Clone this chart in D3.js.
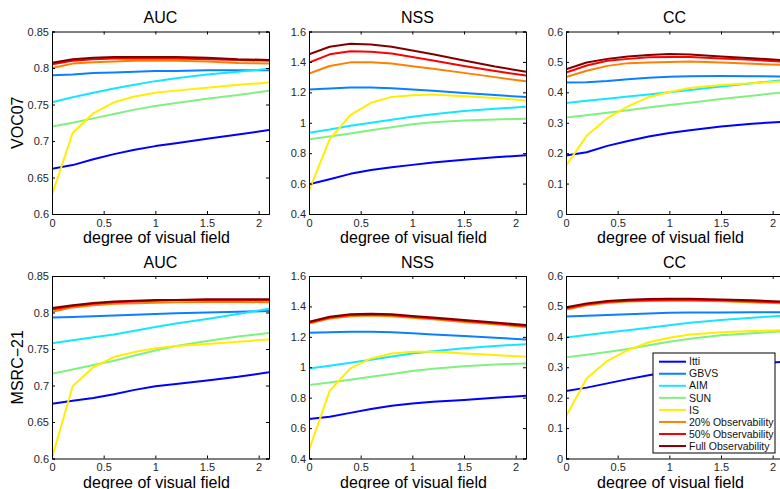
<!DOCTYPE html>
<html>
<head>
<meta charset="utf-8">
<script src="https://cdn.jsdelivr.net/npm/d3@7"></script>
<style>
  body { margin: 0; background: #fff; }
  text { font-family: "Liberation Sans", Arial, Helvetica, sans-serif; }
</style>
</head>
<body>
<svg id="chart" width="780" height="489"></svg>
<script>
// x positions (degree of visual field)
const degrees = [0, 0.2, 0.4, 0.6, 0.8, 1.0, 1.2, 1.5, 1.8, 2.1]

const methods = ['Itti', 'GBVS', 'AIM', 'SUN', 'IS', '20% Observability', '50% Observability', 'Full Observability']
const colors = ['#0000ff', '#0a80ff', '#14e6ff', '#80f080', '#ffee00', '#ff8000', '#ff0000', '#800000']

const datasets = ['VOC07', 'MSRC\u221221']
const metrics = ['AUC', 'NSS', 'CC']

const xTicks = [0, 0.5, 1, 1.5, 2]
const aucTicks = [0.6, 0.65, 0.7, 0.75, 0.8, 0.85]
const nssTicks = [0.4, 0.6, 0.8, 1, 1.2, 1.4, 1.6]
const ccTicks = [0, 0.1, 0.2, 0.3, 0.4, 0.5, 0.6]

// one row per method, same order as `methods`
const voc07AUC = [
  [0.662, 0.667, 0.675, 0.682, 0.688, 0.693, 0.697, 0.703, 0.709, 0.715],
  [0.790, 0.791, 0.793, 0.794, 0.795, 0.796, 0.796, 0.797, 0.797, 0.797],
  [0.753, 0.760, 0.766, 0.772, 0.777, 0.782, 0.786, 0.791, 0.795, 0.799],
  [0.720, 0.725, 0.731, 0.737, 0.743, 0.748, 0.752, 0.758, 0.763, 0.769],
  [0.626, 0.711, 0.738, 0.753, 0.761, 0.766, 0.769, 0.773, 0.777, 0.780],
  [0.800, 0.806, 0.808, 0.809, 0.810, 0.810, 0.810, 0.809, 0.807, 0.806],
  [0.805, 0.810, 0.812, 0.813, 0.813, 0.813, 0.813, 0.812, 0.811, 0.810],
  [0.807, 0.812, 0.814, 0.815, 0.815, 0.815, 0.815, 0.814, 0.812, 0.811]
]
const voc07NSS = [
  [0.596, 0.629, 0.664, 0.690, 0.708, 0.723, 0.738, 0.756, 0.773, 0.787],
  [1.218, 1.225, 1.231, 1.231, 1.227, 1.218, 1.210, 1.195, 1.182, 1.169],
  [0.934, 0.955, 0.980, 1.000, 1.020, 1.040, 1.056, 1.077, 1.092, 1.105],
  [0.891, 0.910, 0.930, 0.950, 0.970, 0.990, 1.003, 1.015, 1.022, 1.026],
  [0.553, 0.891, 1.050, 1.131, 1.170, 1.181, 1.185, 1.175, 1.162, 1.147],
  [1.323, 1.373, 1.397, 1.397, 1.390, 1.372, 1.355, 1.328, 1.300, 1.272],
  [1.395, 1.450, 1.470, 1.467, 1.455, 1.433, 1.410, 1.373, 1.340, 1.310],
  [1.450, 1.500, 1.520, 1.515, 1.500, 1.475, 1.450, 1.410, 1.370, 1.335]
]
const voc07CC = [
  [0.192, 0.203, 0.224, 0.240, 0.255, 0.266, 0.275, 0.288, 0.297, 0.303],
  [0.432, 0.433, 0.437, 0.443, 0.448, 0.451, 0.453, 0.454, 0.453, 0.452],
  [0.365, 0.372, 0.379, 0.386, 0.393, 0.400, 0.408, 0.419, 0.430, 0.440],
  [0.317, 0.325, 0.333, 0.341, 0.350, 0.358, 0.366, 0.378, 0.389, 0.400],
  [0.159, 0.257, 0.315, 0.354, 0.384, 0.401, 0.414, 0.424, 0.430, 0.436],
  [0.450, 0.471, 0.487, 0.496, 0.498, 0.500, 0.501, 0.498, 0.494, 0.490],
  [0.465, 0.488, 0.504, 0.510, 0.515, 0.516, 0.516, 0.511, 0.507, 0.501],
  [0.476, 0.498, 0.510, 0.518, 0.523, 0.526, 0.524, 0.518, 0.512, 0.506]
]
const msrcAUC = [
  [0.675, 0.679, 0.683, 0.688, 0.694, 0.699, 0.702, 0.707, 0.712, 0.718],
  [0.793, 0.794, 0.795, 0.796, 0.797, 0.798, 0.799, 0.800, 0.801, 0.802],
  [0.758, 0.762, 0.766, 0.770, 0.775, 0.780, 0.785, 0.791, 0.798, 0.805],
  [0.716, 0.722, 0.728, 0.734, 0.741, 0.748, 0.754, 0.761, 0.767, 0.772],
  [0.601, 0.699, 0.725, 0.739, 0.746, 0.751, 0.754, 0.757, 0.760, 0.763],
  [0.801, 0.807, 0.810, 0.812, 0.8125, 0.8135, 0.814, 0.8145, 0.8145, 0.814],
  [0.804, 0.809, 0.812, 0.814, 0.815, 0.816, 0.817, 0.817, 0.817, 0.817],
  [0.806, 0.810, 0.813, 0.815, 0.816, 0.817, 0.817, 0.818, 0.818, 0.818]
]
const msrcNSS = [
  [0.659, 0.674, 0.700, 0.725, 0.747, 0.762, 0.773, 0.784, 0.799, 0.812],
  [1.227, 1.230, 1.233, 1.234, 1.230, 1.223, 1.216, 1.205, 1.194, 1.183],
  [0.992, 1.010, 1.030, 1.050, 1.070, 1.090, 1.105, 1.125, 1.140, 1.152],
  [0.883, 0.900, 0.918, 0.937, 0.956, 0.975, 0.990, 1.007, 1.018, 1.025],
  [0.455, 0.845, 0.992, 1.058, 1.090, 1.102, 1.102, 1.090, 1.080, 1.069],
  [1.287, 1.320, 1.336, 1.340, 1.336, 1.325, 1.315, 1.298, 1.282, 1.265],
  [1.294, 1.327, 1.343, 1.347, 1.343, 1.332, 1.322, 1.305, 1.289, 1.272],
  [1.299, 1.332, 1.348, 1.352, 1.348, 1.337, 1.327, 1.310, 1.294, 1.277]
]
const msrcCC = [
  [0.222, 0.233, 0.247, 0.261, 0.274, 0.285, 0.293, 0.303, 0.311, 0.318],
  [0.467, 0.469, 0.472, 0.474, 0.477, 0.479, 0.480, 0.480, 0.481, 0.481],
  [0.398, 0.406, 0.414, 0.422, 0.430, 0.438, 0.446, 0.455, 0.463, 0.469],
  [0.333, 0.341, 0.350, 0.360, 0.372, 0.384, 0.394, 0.405, 0.412, 0.418],
  [0.139, 0.263, 0.321, 0.356, 0.382, 0.397, 0.408, 0.415, 0.419, 0.422],
  [0.490, 0.504, 0.512, 0.516, 0.518, 0.519, 0.519, 0.517, 0.514, 0.510],
  [0.494, 0.507, 0.515, 0.519, 0.521, 0.522, 0.522, 0.520, 0.517, 0.513],
  [0.497, 0.510, 0.518, 0.522, 0.524, 0.525, 0.525, 0.523, 0.520, 0.516]
]

const panels = [
  [voc07AUC, voc07NSS, voc07CC],
  [msrcAUC, msrcNSS, msrcCC]
]
const yTicks = [aucTicks, nssTicks, ccTicks]

const svg = d3.select('svg#chart')

const colX = [52, 309, 566]
const rowY = [31.5, 276]
const plotW = 217
const plotH = 182.5

const line = (x, y) => d3.line()
  .x((d, i) => x(degrees[i]))
  .y(d => y(d))

panels.forEach((row, r) => {
  row.forEach((series, c) => {
    const ticks = yTicks[c]
    const x = d3.scaleLinear().domain([0, 2.1]).range([0, plotW])
    const y = d3.scaleLinear().domain([ticks[0], ticks[ticks.length - 1]]).range([plotH, 0])

    const g = svg.append('g')
      .attr('transform', `translate(${colX[c]},${rowY[r]})`)

    const clipId = `clip-${r}-${c}`
    g.append('clipPath').attr('id', clipId)
      .append('rect').attr('width', plotW).attr('height', plotH)

    g.append('g').attr('clip-path', `url(#${clipId})`)
      .selectAll('path')
      .data(series)
      .enter().append('path')
      .attr('d', d => line(x, y)(d))
      .attr('fill', 'none')
      .attr('stroke', (d, i) => colors[i])
      .attr('stroke-width', 2)
      .attr('stroke-linejoin', 'round')

    // inward ticks on every side, matlab style
    const bottom = g.append('g')
      .attr('transform', `translate(0,${plotH})`)
      .call(d3.axisBottom(x).tickValues(xTicks).tickSize(-3).tickPadding(5).tickFormat(d3.format('')))
    const left = g.append('g')
      .call(d3.axisLeft(y).tickValues(ticks).tickSize(-3).tickPadding(3).tickFormat(d3.format('')))
    g.append('g')
      .call(d3.axisTop(x).tickValues(xTicks).tickSize(-3).tickFormat(''))
    g.append('g')
      .attr('transform', `translate(${plotW},0)`)
      .call(d3.axisRight(y).tickValues(ticks).tickSize(-3).tickFormat(''))

    g.selectAll('.domain').attr('stroke', '#000').attr('stroke-width', 1)
    g.selectAll('.tick line').attr('stroke', '#000')
    g.selectAll('.tick text').attr('fill', '#262626').style('font-size', '11px')

    g.append('text')
      .attr('x', plotW / 2)
      .attr('y', -8.5)
      .attr('text-anchor', 'middle')
      .style('font-size', '16px')
      .text(metrics[c])

    g.append('text')
      .attr('x', plotW / 2 - 4)
      .attr('y', plotH + 29)
      .attr('text-anchor', 'middle')
      .style('font-size', '16px')
      .text('degree of visual field')

    if (c === 0) {
      g.append('text')
        .attr('transform', `translate(${17 - colX[0]},${plotH / 2}) rotate(-90)`)
        .attr('dy', '0.35em')
        .attr('text-anchor', 'middle')
        .style('font-size', '16px')
        .text(datasets[r])
    }

    if (r === 1 && c === 2) {
      const lg = g.append('g').attr('transform', `translate(${653 - colX[2]},${353 - rowY[1]})`)
      lg.append('rect')
        .attr('width', 122).attr('height', 100)
        .attr('fill', '#fff').attr('stroke', '#000').attr('stroke-width', 1)
      const item = lg.selectAll('.item')
        .data(methods)
        .enter().append('g')
        .attr('transform', (d, i) => `translate(0,${8.7 + i * 12.05})`)
      item.append('line')
        .attr('x1', 6).attr('x2', 33)
        .attr('stroke', (d, i) => colors[i])
        .attr('stroke-width', 2)
      item.append('text')
        .attr('x', 36)
        .attr('dy', '0.35em')
        .style('font-size', '10.5px')
        .attr('fill', '#111')
        .text(d => d)
    }
  })
})
</script>
</body>
</html>
